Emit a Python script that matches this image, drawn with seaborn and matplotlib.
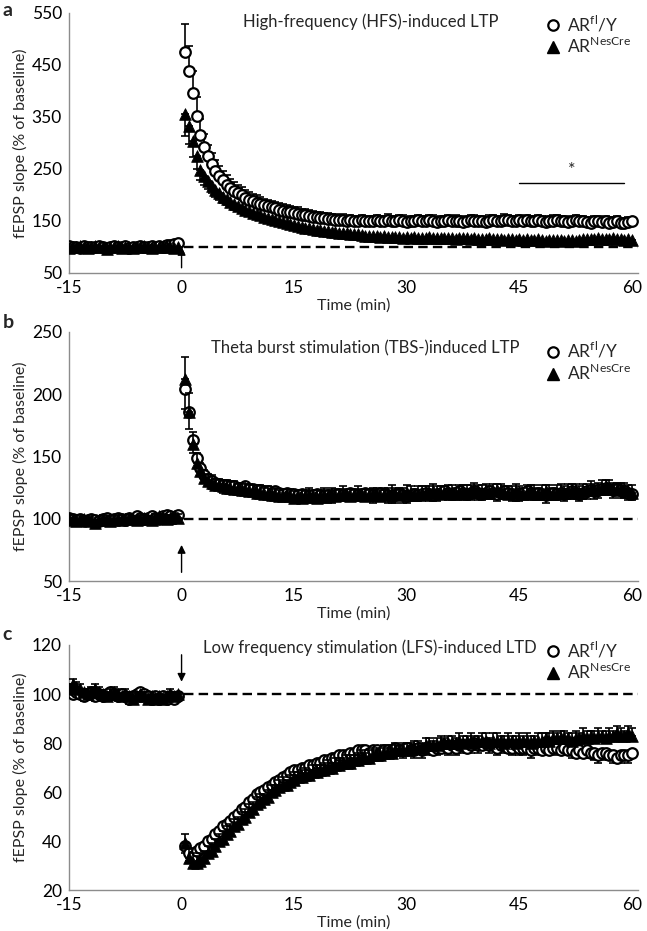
import numpy as np
import pandas as pd
import seaborn as sns
import matplotlib.pyplot as plt
from matplotlib.lines import Line2D

# sampling grid (min): baseline then post-stimulation
base_t = np.arange(-15, 0, 0.5)
post_t = np.arange(0.5, 60.5, 0.5)

# ---- panel a: HFS-induced LTP ----
hfs_fl = [101, 99, 100, 98, 101, 100, 99, 100, 102, 99,
          98, 100, 101, 99, 100, 101, 98, 100, 99, 101,
          100, 99, 102, 100, 101, 99, 103, 104, 106, 107,
          474, 438, 397, 352, 316, 292, 274, 260, 247, 237,
          228, 220, 214, 208, 203, 199, 195, 191, 188, 185,
          183, 180, 178, 176, 174, 172, 170, 168, 167, 165,
          164, 162, 161, 160, 158, 157, 156, 155, 154, 153,
          152, 151, 152, 150, 151, 149, 150, 151, 150, 149,
          150, 151, 149, 150, 152, 150, 149, 151, 150, 148,
          149, 150, 151, 150, 149, 151, 150, 148, 149, 150,
          151, 149, 150, 150, 148, 149, 151, 150, 149, 150,
          148, 150, 151, 149, 150, 152, 151, 150, 149, 151,
          150, 152, 150, 149, 151, 150, 148, 149, 150, 151,
          150, 149, 148, 150, 151, 149, 150, 148, 147, 149,
          150, 148, 149, 147, 148, 149, 146, 147, 148, 149]
hfs_fl_err = [4, 3, 4, 3, 4, 4, 3, 4, 3, 4, 4, 3, 4, 3, 4, 4, 3, 4, 3, 4,
              4, 3, 4, 3, 4, 4, 3, 4, 5, 5,
              55, 48, 42, 36, 30, 26, 23, 21, 20, 19,
              18, 18, 17, 17, 16, 16, 15, 15, 14, 14,
              14, 13, 13, 13, 13, 12, 12, 12, 12, 12,
              12, 11, 12, 11, 11, 11, 12, 11, 11, 11,
              11, 10, 11, 10, 11, 10, 10, 11, 10, 10,
              10, 11, 10, 10, 11, 10, 10, 10, 11, 10,
              10, 10, 11, 10, 10, 10, 11, 10, 10, 10,
              10, 10, 11, 10, 10, 10, 10, 11, 10, 10,
              10, 11, 10, 10, 10, 11, 10, 10, 10, 10,
              10, 10, 10, 11, 10, 10, 10, 10, 11, 10,
              10, 10, 10, 10, 11, 10, 10, 10, 10, 10,
              10, 10, 10, 11, 10, 10, 10, 9, 10, 9]
hfs_cre = [98, 100, 99, 101, 100, 98, 99, 101, 100, 99,
           97, 99, 100, 101, 98, 99, 100, 98, 99, 100,
           101, 99, 98, 100, 99, 101, 100, 99, 98, 100,
           356, 333, 303, 275, 248, 236, 226, 217, 210, 203,
           197, 192, 187, 183, 179, 175, 172, 169, 166, 163,
           161, 158, 156, 154, 152, 150, 148, 146, 144, 142,
           140, 139, 137, 136, 134, 133, 132, 131, 130, 129,
           128, 127, 126, 126, 125, 124, 124, 123, 122, 122,
           121, 121, 120, 121, 120, 119, 120, 119, 118, 119,
           118, 119, 118, 117, 118, 119, 118, 117, 118, 117,
           118, 117, 116, 117, 118, 117, 116, 117, 116, 115,
           116, 117, 115, 116, 115, 114, 116, 115, 114, 115,
           114, 115, 113, 114, 115, 113, 112, 113, 114, 113,
           113, 112, 114, 113, 112, 114, 115, 116, 115, 116,
           117, 116, 115, 116, 117, 116, 115, 114, 115, 114]
hfs_cre_err = [4, 4, 3, 4, 4, 3, 4, 4, 3, 4, 4, 4, 3, 4, 4, 3, 4, 4, 3, 4,
               4, 4, 3, 4, 4, 3, 4, 4, 3, 4,
               42, 35, 30, 25, 20, 17, 15, 14, 13, 12,
               12, 11, 11, 11, 10, 10, 10, 10, 9, 9,
               9, 9, 9, 9, 9, 8, 8, 8, 8, 8,
               8, 8, 8, 8, 8, 8, 8, 8, 8, 8,
               8, 7, 8, 7, 8, 7, 8, 7, 8, 7,
               7, 8, 7, 8, 7, 8, 7, 8, 7, 8,
               8, 7, 8, 7, 8, 7, 8, 7, 8, 7,
               7, 8, 7, 8, 7, 8, 7, 8, 7, 8,
               8, 7, 8, 7, 8, 7, 8, 7, 8, 7,
               7, 8, 7, 8, 7, 8, 7, 8, 7, 8,
               8, 7, 8, 7, 8, 7, 8, 7, 8, 7,
               7, 8, 7, 8, 7, 8, 7, 8, 7, 8]

# ---- panel b: TBS-induced LTP ----
tbs_fl = [101, 100, 99, 100, 98, 99, 100, 99, 98, 100,
          101, 99, 100, 101, 100, 99, 101, 100, 102, 101,
          100, 101, 102, 101, 100, 102, 103, 102, 101, 103,
          204, 186, 163, 149, 141, 135, 132, 130, 129, 128,
          127, 127, 126, 126, 125, 125, 126, 124, 124, 123,
          123, 122, 122, 121, 122, 121, 120, 121, 120, 120,
          119, 120, 119, 118, 119, 120, 119, 118, 119, 118,
          119, 120, 119, 120, 121, 120, 119, 120, 121, 120,
          119, 120, 121, 120, 119, 118, 119, 120, 119, 118,
          119, 120, 119, 120, 121, 120, 119, 120, 121, 122,
          121, 120, 121, 122, 121, 120, 121, 122, 121, 120,
          121, 122, 121, 120, 121, 122, 121, 120, 119, 120,
          121, 122, 121, 120, 121, 120, 119, 120, 121, 120,
          121, 120, 121, 122, 121, 120, 121, 122, 123, 122,
          123, 124, 125, 124, 123, 124, 123, 122, 121, 120]
tbs_fl_err = [3, 3, 2, 3, 3, 2, 3, 3, 2, 3, 3, 3, 2, 3, 3, 2, 3, 3, 2, 3,
              3, 3, 2, 3, 3, 2, 3, 3, 2, 3,
              16, 14, 10, 8, 7, 6, 6, 6, 5, 5,
              6, 5, 6, 5, 6, 5, 6, 5, 6, 5,
              5, 6, 5, 6, 5, 6, 5, 6, 5, 6,
              6, 5, 6, 5, 6, 5, 6, 5, 6, 5,
              5, 6, 5, 6, 5, 6, 5, 6, 5, 6,
              6, 5, 6, 5, 6, 5, 6, 5, 6, 5,
              5, 6, 5, 6, 5, 6, 5, 6, 5, 6,
              6, 5, 6, 5, 6, 5, 6, 5, 6, 5,
              5, 6, 5, 6, 5, 6, 5, 6, 5, 6,
              6, 5, 6, 5, 6, 5, 6, 5, 6, 5,
              5, 6, 5, 6, 5, 6, 5, 6, 5, 6,
              6, 5, 6, 5, 6, 5, 6, 5, 6, 5]
tbs_cre = [100, 99, 98, 99, 100, 99, 98, 97, 99, 100,
           99, 98, 99, 100, 99, 100, 101, 100, 99, 100,
           101, 100, 99, 101, 102, 101, 100, 101, 102, 101,
           212, 186, 160, 145, 138, 133, 130, 129, 127, 127,
           126, 125, 125, 124, 124, 123, 123, 122, 122, 121,
           121, 120, 120, 119, 119, 118, 118, 119, 118, 117,
           118, 117, 118, 119, 118, 117, 118, 119, 118, 119,
           118, 119, 120, 119, 118, 119, 120, 119, 118, 119,
           120, 119, 118, 119, 120, 121, 120, 119, 120, 121,
           120, 119, 120, 121, 120, 121, 122, 121, 120, 121,
           122, 121, 120, 121, 122, 121, 122, 123, 122, 121,
           122, 121, 122, 123, 122, 121, 120, 121, 122, 121,
           120, 121, 122, 121, 120, 121, 122, 121, 120, 121,
           122, 121, 122, 123, 122, 121, 122, 123, 124, 123,
           124, 125, 126, 125, 124, 123, 124, 123, 122, 121]
tbs_cre_err = [3, 2, 3, 3, 2, 3, 3, 2, 3, 3, 3, 2, 3, 3, 2, 3, 3, 2, 3, 3,
               3, 2, 3, 3, 2, 3, 3, 2, 3, 3,
               18, 15, 10, 8, 7, 6, 6, 6, 5, 5,
               5, 6, 5, 6, 5, 6, 5, 6, 5, 6,
               6, 5, 6, 5, 6, 5, 6, 5, 6, 5,
               5, 6, 5, 6, 5, 6, 5, 6, 5, 6,
               6, 5, 6, 5, 6, 5, 6, 5, 6, 5,
               5, 6, 5, 6, 5, 6, 5, 6, 5, 6,
               6, 5, 6, 5, 6, 5, 6, 5, 6, 5,
               5, 6, 5, 6, 5, 6, 5, 6, 5, 6,
               6, 5, 6, 5, 6, 5, 6, 5, 6, 5,
               5, 6, 5, 6, 5, 6, 5, 6, 5, 6,
               6, 5, 6, 5, 6, 5, 6, 5, 6, 5,
               5, 6, 5, 6, 5, 6, 5, 6, 5, 6]

# ---- panel c: LFS-induced LTD ----
lfs_fl = [101, 100, 101, 100, 99, 100, 101, 99, 100, 99,
          100, 101, 100, 99, 100, 99, 98, 99, 100, 101,
          100, 99, 98, 99, 98, 99, 98, 99, 98, 99,
          38, 35, 34, 36, 37, 38, 40, 41, 43, 44,
          46, 47, 48, 50, 51, 53, 54, 56, 57, 59,
          60, 61, 62, 63, 64, 65, 66, 67, 68, 69,
          69, 70, 70, 71, 71, 72, 72, 73, 73, 74,
          74, 75, 75, 75, 76, 76, 77, 77, 77, 76,
          77, 77, 76, 77, 77, 77, 78, 77, 77, 78,
          77, 77, 78, 77, 78, 78, 77, 78, 78, 79,
          78, 79, 78, 79, 79, 78, 79, 80, 79, 79,
          80, 79, 79, 78, 79, 79, 78, 78, 79, 78,
          78, 78, 77, 78, 78, 77, 78, 77, 78, 78,
          77, 78, 77, 77, 76, 77, 76, 77, 76, 76,
          75, 76, 76, 75, 75, 74, 75, 75, 75, 76]
lfs_fl_err = [2, 2, 1, 2, 2, 1, 2, 2, 1, 2, 2, 2, 1, 2, 2, 1, 2, 2, 1, 2,
              2, 2, 1, 2, 2, 1, 2, 2, 1, 2,
              3, 3, 3, 3, 3, 3, 3, 3, 3, 3,
              3, 2, 3, 2, 3, 2, 3, 2, 3, 2,
              2, 3, 2, 3, 2, 3, 2, 3, 2, 3,
              3, 2, 3, 2, 3, 2, 3, 2, 3, 2,
              2, 3, 2, 3, 2, 3, 2, 3, 2, 3,
              3, 2, 3, 2, 3, 2, 3, 2, 3, 2,
              2, 3, 2, 3, 2, 3, 2, 3, 2, 3,
              3, 2, 3, 2, 3, 2, 3, 2, 3, 2,
              2, 3, 2, 3, 2, 3, 2, 3, 2, 3,
              3, 2, 3, 2, 3, 2, 3, 2, 3, 2,
              2, 3, 2, 3, 2, 3, 2, 3, 2, 3,
              3, 2, 3, 2, 3, 2, 3, 2, 3, 2]
lfs_cre = [102, 104, 103, 102, 101, 100, 101, 102, 101, 100,
           99, 100, 101, 100, 99, 100, 99, 98, 99, 100,
           99, 98, 99, 98, 99, 98, 99, 100, 99, 100,
           39, 33, 31, 31, 32, 33, 35, 36, 38, 40,
           41, 43, 44, 46, 47, 49, 50, 52, 53, 55,
           56, 57, 58, 60, 61, 62, 63, 63, 64, 65,
           66, 66, 67, 67, 68, 68, 69, 69, 70, 70,
           71, 71, 72, 72, 72, 73, 73, 74, 74, 74,
           75, 75, 75, 76, 76, 76, 77, 77, 77, 77,
           78, 78, 78, 78, 79, 79, 79, 79, 80, 80,
           80, 80, 80, 81, 80, 81, 81, 80, 81, 81,
           81, 80, 81, 81, 81, 80, 81, 81, 80, 81,
           81, 81, 80, 81, 81, 81, 82, 81, 82, 82,
           82, 82, 82, 81, 82, 82, 83, 82, 83, 82,
           83, 83, 82, 83, 83, 84, 83, 83, 84, 83]
lfs_cre_err = [2, 2, 2, 2, 1, 2, 2, 2, 2, 1, 2, 2, 2, 2, 1, 2, 2, 2, 2, 1,
               2, 2, 2, 2, 1, 2, 2, 2, 2, 1,
               4, 4, 4, 3, 3, 3, 3, 3, 3, 3,
               3, 3, 3, 3, 3, 3, 3, 3, 3, 3,
               3, 2, 3, 3, 2, 3, 3, 2, 3, 3,
               2, 3, 3, 2, 3, 3, 2, 3, 3, 2,
               3, 3, 2, 3, 3, 2, 3, 3, 2, 3,
               3, 2, 3, 3, 2, 3, 3, 2, 3, 3,
               2, 3, 3, 2, 3, 3, 2, 3, 3, 2,
               3, 3, 2, 3, 3, 2, 3, 3, 2, 3,
               3, 2, 3, 3, 2, 3, 3, 2, 3, 3,
               2, 3, 3, 2, 3, 3, 2, 3, 3, 2,
               3, 3, 2, 3, 3, 2, 3, 3, 2, 3,
               3, 2, 3, 3, 2, 3, 3, 2, 3, 3]

# significance bar for panel a (min, % baseline)
sig_start, sig_end, sig_y = 45, 59, 223

sns.set_theme(style="white")
plt.rcParams['font.family'] = ['Lato', 'DejaVu Sans']
plt.rcParams['mathtext.fontset'] = 'custom'
plt.rcParams['mathtext.rm'] = 'Lato'
plt.rcParams['axes.unicode_minus'] = False

times = np.concatenate([base_t, post_t])
GRAY = '#8c8c8c'


def draw_panel(ax, fl, fl_err, cre, cre_err, fl_up, cre_up, ylim, yticks, ylabels,
               title, title_xy, arrow, leg_xy):
    df = pd.DataFrame({'time': times, 'fl': fl, 'cre': cre})
    # circles first, triangles on top (series order of the original figure)
    for col, err, up, z in [('fl', fl_err, fl_up, 2), ('cre', cre_err, cre_up, 4)]:
        err = np.asarray(err, dtype=float)
        zz = np.zeros_like(err)
        yerr = [zz, err] if up else [err, zz]
        ax.errorbar(df['time'], df[col], yerr=yerr, fmt='none', ecolor='black',
                    elinewidth=1.2, capsize=3.2, capthick=1.2, zorder=z)
    sns.scatterplot(data=df, x='time', y='fl', marker='o', s=58, color='white',
                    edgecolor='black', linewidth=1.6, ax=ax, zorder=3)
    sns.scatterplot(data=df, x='time', y='cre', marker='^', s=70, color='black',
                    edgecolor='black', linewidth=0.6, ax=ax, zorder=5)

    ax.plot([0.3, 60.8], [100, 100], color='black', lw=1.7, dashes=(4, 2.2), zorder=1)
    ax.annotate('', xy=(0, arrow[1]), xytext=(0, arrow[0]),
                arrowprops=dict(arrowstyle='-|>', color='black', lw=1.0,
                                mutation_scale=12, shrinkA=0, shrinkB=0))

    ax.set_xlim(-15, 60.8)
    ax.set_ylim(*ylim)
    ax.set_xticks([-15, 0, 15, 30, 45, 60])
    ax.set_yticks(yticks)
    ax.set_yticklabels(ylabels)
    ax.set_xlabel('Time (min)', fontsize=11.5, labelpad=2)
    ax.set_ylabel('fEPSP slope (% of baseline)', fontsize=11.5, labelpad=3)
    ax.tick_params(axis='both', labelsize=12.5, colors=GRAY, labelcolor='black',
                   length=3, width=1, direction='out', pad=2)
    for s in ['top', 'right']:
        ax.spines[s].set_visible(False)
    for s in ['left', 'bottom']:
        ax.spines[s].set_color(GRAY)
        ax.spines[s].set_linewidth(1.0)
    ax.text(title_xy[0], title_xy[1], title, transform=ax.transAxes,
            ha='center', va='center', fontsize=12)

    handles = [Line2D([], [], ls='none', marker='o', ms=7.5, mfc='white', mec='black', mew=1.6),
               Line2D([], [], ls='none', marker='^', ms=8.5, mfc='black', mec='black')]
    labels = [r'AR$^{\mathrm{fl}}$/Y', r'AR$^{\mathrm{NesCre}}$']
    ax.legend(handles, labels, loc='upper left', bbox_to_anchor=leg_xy, frameon=False,
              fontsize=12.5, handletextpad=0.3, labelspacing=0.1, borderaxespad=0,
              handlelength=1.0, borderpad=0)


fig = plt.figure(figsize=(6.47, 9.31), dpi=100)
ax_a = fig.add_axes([0.1066, 0.7068, 0.8794, 0.2793])
ax_b = fig.add_axes([0.1066, 0.3759, 0.8794, 0.2675])
ax_c = fig.add_axes([0.1066, 0.0440, 0.8794, 0.2632])

draw_panel(ax_a, hfs_fl, hfs_fl_err, hfs_cre, hfs_cre_err, True, False,
           (50, 550), np.arange(50, 551, 50),
           [str(v) if v % 100 == 50 else '' for v in range(50, 551, 50)],
           'High-frequency (HFS)-induced LTP', (0.531, 0.965), (60, 100), (0.835, 0.995))
ax_a.plot([sig_start, sig_end], [sig_y, sig_y], color='black', lw=1.0)
ax_a.text((sig_start + sig_end) / 2, sig_y + 10, '*', ha='center', va='bottom', fontsize=13)

draw_panel(ax_b, tbs_fl, tbs_fl_err, tbs_cre, tbs_cre_err, False, True,
           (50, 250), np.arange(50, 251, 50), [str(v) for v in range(50, 251, 50)],
           'Theta burst stimulation (TBS-)induced LTP', (0.52, 0.936), (57, 79), (0.835, 0.965))

draw_panel(ax_c, lfs_fl, lfs_fl_err, lfs_cre, lfs_cre_err, False, True,
           (20, 120), np.arange(20, 121, 20), [str(v) for v in range(20, 121, 20)],
           'Low frequency stimulation (LFS)-induced LTD', (0.529, 0.988), (116, 105), (0.835, 1.02))

for letter, y in [('a', 0.989), ('b', 0.654), ('c', 0.318)]:
    fig.text(0.004, y, letter, fontsize=14, fontweight='bold', va='center', ha='left')

fig.savefig('out.png', dpi=100)
